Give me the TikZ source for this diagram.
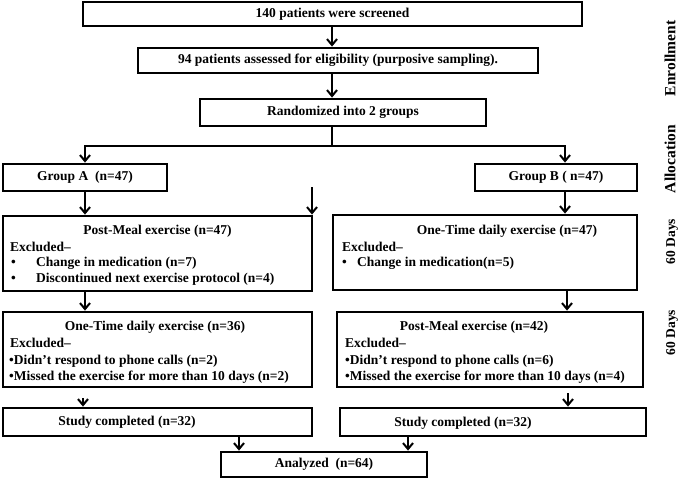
\documentclass[tikz,border=0pt]{standalone}
\usepackage{fontspec}
\setmainfont{Liberation Serif}
\usetikzlibrary{arrows.meta}
\newcommand{\boxfont}{\fontsize{13.5}{16}\selectfont\bfseries}
\newcommand{\sidefont}{\fontsize{15.5}{18}\selectfont\bfseries}
\newcommand{\dayfont}{\fontsize{13.5}{16}\selectfont\bfseries}
\begin{document}
\begin{tikzpicture}[x=1pt,y=-1pt,
  box/.style={draw, line width=2.8pt, inner sep=0pt, font=\boxfont},
  txt/.style={inner sep=0pt, font=\boxfont},
  side/.style={inner sep=0pt, rotate=90, font=\sidefont},
  arr/.style={line width=2pt, -{Straight Barb[length=6pt,width=10pt,line width=2pt]}},
  ln/.style={line width=2pt}]
\useasboundingbox (0,0) rectangle (685,479);
% boxes
\node[box, minimum width=499pt, minimum height=24pt] (b1) at (332.5,14) {140 patients were screened};
\node[box, minimum width=400pt, minimum height=25pt] (b2) at (338,60.5) {94 patients assessed for eligibility (purposive sampling).};
\node[box, minimum width=286pt, minimum height=27pt] (b3) at (343,112.5) {Randomized into 2 groups};
\node[box, minimum width=164pt, minimum height=27pt] (gA) at (85,177.5) {Group A~ (n=47)};
\node[box, minimum width=162pt, minimum height=27pt] (gB) at (556,177.5) {Group B ( n=47)};
\node[box, minimum width=309pt, minimum height=75pt] (pmA) at (157.5,253.5) {};
\node[box, minimum width=304pt, minimum height=75pt] (otB) at (485,252.5) {};
\node[box, minimum width=309pt, minimum height=75pt] (otA) at (157.5,349.5) {};
\node[box, minimum width=306pt, minimum height=75pt] (pmB) at (490,349.5) {};
\node[box, minimum width=309pt, minimum height=28pt] (scA) at (157.5,422) {};
\node[box, minimum width=306pt, minimum height=28pt] (scB) at (493,422) {};
\node[box, minimum width=206pt, minimum height=25pt] (an) at (324,464.5) {Analyzed~ (n=64)};
% texts in boxes
\node[txt, anchor=base] (pmAt) at (157.5,234.5) {Post-Meal exercise (n=47)};
\node[txt, anchor=base west] (pmAe) at (10,251.5) {Excluded–};
\node[txt, anchor=base west] (pmAb1) at (11,266.5) {•};
\node[txt, anchor=base west] (pmAl1) at (36,266.5) {Change in medication (n=7)};
\node[txt, anchor=base west] (pmAb2) at (11,282.5) {•};
\node[txt, anchor=base west] (pmAl2) at (36,282.5) {Discontinued next exercise protocol (n=4)};
\node[txt, anchor=base] (otBt) at (507,234.5) {One-Time daily exercise (n=47)};
\node[txt, anchor=base west] (otBe) at (342,251.5) {Excluded–};
\node[txt, anchor=base west] (otBb1) at (342,266.5) {•};
\node[txt, anchor=base west] (otBl1) at (357,266.5) {Change in medication(n=5)};
\node[txt, anchor=base] (otAt) at (155,330.5) {One-Time daily exercise (n=36)};
\node[txt, anchor=base west] (otAe) at (10,347.5) {Excluded–};
\node[txt, anchor=base west] (otAl1) at (9,364.5) {•Didn’t respond to phone calls (n=2)};
\node[txt, anchor=base west] (otAl2) at (9,380.5) {•Missed the exercise for more than 10 days (n=2)};
\node[txt, anchor=base] (pmBt) at (474,330.5) {Post-Meal exercise (n=42)};
\node[txt, anchor=base west] (pmBe) at (345,347.5) {Excluded–};
\node[txt, anchor=base west] (pmBl1) at (345,364.5) {•Didn’t respond to phone calls (n=6)};
\node[txt, anchor=base west] (pmBl2) at (345,380.5) {•Missed the exercise for more than 10 days (n=4)};
\node[txt] (scAt) at (127,422) {Study completed (n=32)};
\node[txt] (scBt) at (463,423) {Study completed (n=32)};
% side labels
\node[side] (enr) at (670,58.5) {Enrollment};
\node[side] (alloc) at (670,159) {Allocation};
\node[side, font=\dayfont] (d1) at (672,241.5) {60 Days};
\node[side, font=\dayfont] (d2) at (672,332.5) {60 Days};
% connector columns
\coordinate (cx) at (332,0);
\coordinate (br) at (332,146);
\coordinate (brR) at (565,146);
\coordinate (xA1) at (85,0);
\coordinate (xA2) at (83,0);
\coordinate (xB1) at (565,0);
\coordinate (xB2) at (567,0);
\coordinate (xB3) at (568,0);
\coordinate (xN1) at (239,0);
\coordinate (xN2) at (408,0);
\coordinate (s1) at (312,187);
% connectors
\draw[arr] (b1.south -| cx) -- (b2.north -| cx);
\draw[arr] (b2.south -| cx) -- (b3.north -| cx);
\draw[ln] (b3.south -| cx) -- (br);
\draw[arr] (br) -| (gA.north);
\draw[arr] (br) -| (gB.north -| brR);
\draw[arr] (gA.south -| xA1) -- (pmA.north -| xA1);
\draw[arr] (s1) -- (s1 |- pmA.north);
\draw[arr] (gB.south -| xB1) -- (otB.north -| xB1);
\draw[arr] (pmA.south -| xA1) -- (otA.north -| xA1);
\draw[arr] (otB.south -| xB2) -- (pmB.north -| xB2);
\draw[arr, shorten <=10pt] (otA.south -| xA2) -- (scA.north -| xA2);
\draw[arr, shorten <=5pt] (pmB.south -| xB3) -- (scB.north -| xB3);
\draw[arr] (scA.south -| xN1) -- (an.north -| xN1);
\draw[arr] (scB.south -| xN2) -- (an.north -| xN2);
\end{tikzpicture}
\end{document}
